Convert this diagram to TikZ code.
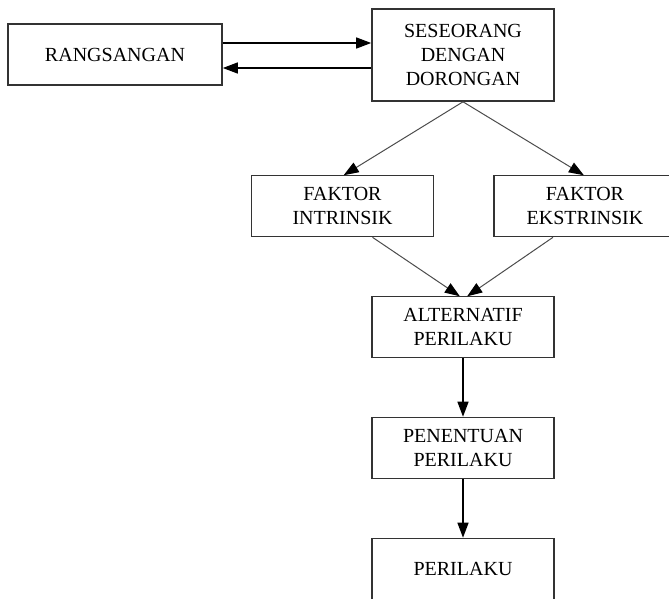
\documentclass[tikz,border=0pt]{standalone}
\usepackage{fontspec}
\setmainfont{Liberation Serif}
\usepackage{tikz}
\usetikzlibrary{arrows.meta}
\tikzstyle{box} = [rectangle, minimum width=182pt, minimum height=61pt, text centered, align=center, draw=black!80, line width=1.6pt, font=\fontsize{20}{24}\selectfont]
\tikzstyle{arrow} = [line width=1.4pt, -{Triangle[length=15pt,width=11pt]}]
\tikzstyle{slant} = [line width=1pt, draw=black!70, -{Triangle[length=15pt,width=11pt,color=black]}, shorten >=-1pt]

\begin{document}
\begin{tikzpicture}[x=1pt,y=-1pt]
\useasboundingbox (0,0) rectangle (669,598);
\clip (0,0) rectangle (669,598);

% Nodes
\node (rang) at (115,54.5) [box, minimum width=214pt] {RANGSANGAN};
\node (sese) at (463,55) [box, minimum height=92pt] {SESEORANG\\DENGAN\\DORONGAN};

\node (intr) at (342.5,206) [box] {FAKTOR\\INTRINSIK};
\node (ekst) at (585,206) [box] {FAKTOR\\EKSTRINSIK};

\node (alt) at (463,327) [box] {ALTERNATIF\\PERILAKU};
\node (pen) at (463,448) [box] {PENENTUAN\\PERILAKU};
\node (peri) at (463,569) [box] {PERILAKU};

% Arrows
\draw [arrow] ([yshift=11.5pt]rang.east) -- ([yshift=11.5pt]rang.east -| sese.west);
\draw [arrow] ([yshift=-13.5pt]rang.east -| sese.west) -- ([yshift=-13.5pt]rang.east);

\draw [slant] (sese.south) -- ([xshift=2pt]intr.north);
\draw [slant] (sese.south) -- ([xshift=-2pt]ekst.north);

\draw [slant] ([xshift=30pt]intr.south) -- ([xshift=-4pt]alt.north);
\draw [slant] ([xshift=-32pt]ekst.south) -- ([xshift=5pt]alt.north);

\draw [arrow] (alt) -- (pen);
\draw [arrow] (pen) -- (peri);

\end{tikzpicture}
\end{document}
